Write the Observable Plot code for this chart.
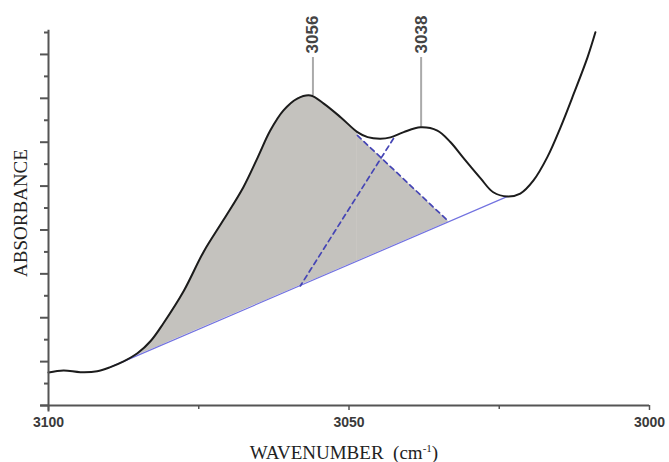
<!DOCTYPE html>
<html>
<head>
<meta charset="utf-8">
<script src="https://cdn.jsdelivr.net/npm/d3@7"></script>
<script src="https://cdn.jsdelivr.net/npm/@observablehq/plot@0.6"></script>
<style>
  html, body { margin: 0; padding: 0; background: #fff; }
</style>
</head>
<body>
<div id="chart"></div>
<script>
// Spectrum
const wavenumber = [3100.0, 3097.5, 3094.7, 3091.9, 3089.7, 3087.5, 3085.2, 3083.0, 3080.9, 3077.5, 3074.2, 3070.9, 3067.6, 3065.2, 3063.1, 3060.9, 3058.6, 3056.4, 3054.2, 3051.4, 3048.6, 3046.9, 3044.8, 3043.1, 3040.9, 3038.1, 3035.3, 3033.1, 3030.9, 3028.1, 3026.0, 3023.6, 3021.5, 3019.3, 3017.0, 3014.8, 3012.6, 3010.3, 3009.0];
const absorbance = [1.50, 1.60, 1.52, 1.56, 1.75, 2.01, 2.38, 2.94, 3.74, 5.22, 7.00, 8.45, 9.94, 11.30, 12.53, 13.45, 13.99, 14.13, 13.76, 13.14, 12.46, 12.23, 12.16, 12.22, 12.46, 12.68, 12.53, 12.00, 11.26, 10.35, 9.72, 9.53, 9.66, 10.26, 11.32, 12.68, 14.21, 15.88, 17.01];

// Baseline (tangent line)
const baselineX = [3089.7, 3023.6];
const baselineY = [1.75, 9.53];

// Deconvolution boundary (dashed) lines
const dashAX = [3048.6, 3033.4];
const dashAY = [12.31, 8.38];
const dashBX = [3042.6, 3058.1];
const dashBY = [12.17, 5.45];

// Peak annotations
const peakPos = [3056, 3038];
const peakAbs = [14.13, 12.68];
const peakLabels = ["3056", "3038"];

// Axis ticks
const xLabelTicks = [3100, 3050, 3000];
const xMinorTicks = [3075, 3025];
const yMajorTicks = [0, 2, 4, 6, 8, 10, 12, 14, 16];
const yMinorTicks = [1, 3, 5, 7, 9, 11, 13, 15, 17];

const spectrum = wavenumber.map((w, i) => ({w, a: absorbance[i]}));
const baseAt = w => baselineY[0] + (baselineY[1] - baselineY[0]) * (baselineX[0] - w) / (baselineX[0] - baselineX[1]);
const shadeMain = spectrum.filter(d => d.w <= baselineX[0] && d.w >= dashAX[0]).map(d => ({w: d.w, lo: baseAt(d.w), hi: d.a}));
const shadeTri = dashAX.map((w, i) => ({w, lo: baseAt(w), hi: dashAY[i]}));
const baseline = baselineX.map((w, i) => ({w, a: baselineY[i]}));
const dashA = dashAX.map((w, i) => ({w, a: dashAY[i]}));
const dashB = dashBX.map((w, i) => ({w, a: dashBY[i]}));
const peaks = peakPos.map((w, i) => ({w, a: peakAbs[i], label: peakLabels[i]}));

const axisColor = "#555";
const chart = Plot.plot({
  width: 669,
  height: 462,
  marginLeft: 48,
  marginRight: 20,
  marginTop: 32,
  marginBottom: 57,
  style: {fontFamily: "'Liberation Sans', Arial, sans-serif", fontSize: "14px", color: "#333", background: "#fff"},
  x: {domain: [3100, 3000]},
  y: {domain: [0, 17]},
  marks: [
    Plot.areaY(shadeMain, {x: "w", y1: "lo", y2: "hi", fill: "#c4c2be", curve: "catmull-rom"}),
    Plot.areaY(shadeTri, {x: "w", y1: "lo", y2: "hi", fill: "#c4c2be"}),
    Plot.line(baseline, {x: "w", y: "a", stroke: "#7272e0", strokeWidth: 1.2}),
    Plot.line(dashA, {x: "w", y: "a", stroke: "#4545b5", strokeWidth: 1.7, strokeDasharray: "5,4"}),
    Plot.line(dashB, {x: "w", y: "a", stroke: "#4545b5", strokeWidth: 1.7, strokeDasharray: "5,4"}),
    Plot.ruleX(peaks, {x: "w", y1: "a", y2: 15.86, stroke: "#aaa", strokeWidth: 2}),
    Plot.line(spectrum, {x: "w", y: "a", stroke: "#1c1c1c", strokeWidth: 2, curve: "catmull-rom"}),
    Plot.text(peaks, {x: "w", y: 16.91, text: "label", rotate: -90, fontSize: 17, fontWeight: "bold", fill: "#444"}),
    Plot.ruleX([3100], {y1: -0.3, y2: 17.1, stroke: axisColor, strokeWidth: 2}),
    Plot.ruleY([0], {x1: 3101.3, x2: 3000, stroke: axisColor, strokeWidth: 2}),
    Plot.axisX(xLabelTicks, {tickSize: 5, tickPadding: 7, tickFormat: d => String(d), label: null, stroke: axisColor, strokeWidth: 1.5, fill: "#3a3a3a", fontWeight: "bold", fontSize: 14}),
    Plot.axisX(xMinorTicks, {tickSize: 4, tickFormat: () => "", label: null, stroke: axisColor, strokeWidth: 1.5}),
    Plot.axisY(yMajorTicks, {tickSize: 8, tickFormat: () => "", label: null, stroke: axisColor, strokeWidth: 2}),
    Plot.axisY(yMinorTicks, {tickSize: 4, tickFormat: () => "", label: null, stroke: axisColor, strokeWidth: 2})
  ]
});

document.getElementById("chart").appendChild(chart);

// Axis titles (serif, as in the reference)
const svg = d3.select(chart);
svg.append("text")
  .attr("transform", "translate(27,213) rotate(-90)")
  .attr("text-anchor", "middle")
  .attr("font-family", "'Liberation Serif', 'Times New Roman', serif")
  .attr("font-size", 19)
  .attr("fill", "#222")
  .text("ABSORBANCE");
const xt = svg.append("text")
  .attr("x", 344)
  .attr("y", 459)
  .attr("text-anchor", "middle")
  .attr("font-family", "'Liberation Serif', 'Times New Roman', serif")
  .attr("font-size", 19)
  .attr("fill", "#222");
xt.append("tspan").text("WAVENUMBER  (cm");
xt.append("tspan").attr("font-size", 11).attr("dy", -7).text("-1");
xt.append("tspan").attr("dy", 7).text(")");
</script>
</body>
</html>
